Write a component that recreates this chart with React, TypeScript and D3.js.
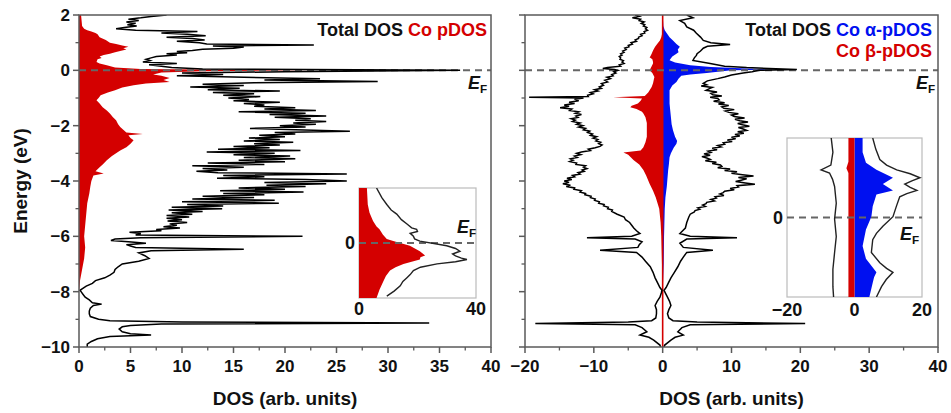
import React from "react";
import * as d3 from "d3";

type P = [number, number];

// [energy (eV), DOS]
const leftTotal: P[] = [
  [2.0, 8.5], [1.95, 7.0], [1.9, 6.0], [1.85, 4.8], [1.8, 5.8], [1.75, 4.6], [1.7, 5.5], [1.65, 4.7], [1.6, 5.6], [1.55, 4.4],
  [1.5, 3.6], [1.45, 5.5], [1.4, 11.5], [1.35, 8.0], [1.3, 10.5], [1.25, 12.3], [1.2, 8.5], [1.15, 11.0], [1.1, 12.2], [1.05, 9.5],
  [1.0, 11.7], [0.95, 12.4], [0.92, 22.8], [0.88, 13.0], [0.84, 16.0], [0.8, 15.0], [0.76, 12.0], [0.72, 11.0], [0.68, 9.5], [0.64, 10.5],
  [0.6, 8.5], [0.55, 9.5], [0.5, 7.5], [0.45, 7.0], [0.4, 6.5], [0.35, 6.9], [0.3, 6.2], [0.25, 9.5], [0.2, 6.8], [0.15, 8.0],
  [0.1, 9.0], [0.05, 12.0], [0.0, 37.0], [-0.05, 20.0], [-0.1, 10.0], [-0.15, 14.0], [-0.2, 9.5], [-0.25, 16.0], [-0.3, 23.4], [-0.35, 18.0],
  [-0.4, 29.0], [-0.45, 17.0], [-0.5, 12.0], [-0.55, 16.0], [-0.6, 10.8], [-0.65, 15.6], [-0.7, 12.5], [-0.75, 19.5], [-0.8, 13.0], [-0.85, 17.0],
  [-0.9, 14.0], [-0.95, 17.6], [-1.0, 14.5], [-1.05, 16.5], [-1.1, 15.0], [-1.15, 19.5], [-1.2, 16.0], [-1.25, 18.0], [-1.3, 17.0], [-1.35, 21.0],
  [-1.4, 18.0], [-1.45, 23.0], [-1.5, 15.5], [-1.55, 22.0], [-1.6, 18.5], [-1.65, 24.0], [-1.7, 19.0], [-1.75, 22.5], [-1.8, 21.0], [-1.85, 24.0],
  [-1.9, 20.8], [-1.95, 23.0], [-2.0, 19.5], [-2.05, 22.0], [-2.1, 16.6], [-2.15, 21.0], [-2.2, 26.3], [-2.25, 19.0], [-2.3, 21.0], [-2.35, 17.5],
  [-2.4, 20.0], [-2.45, 16.5], [-2.5, 19.5], [-2.55, 16.0], [-2.6, 20.8], [-2.65, 17.0], [-2.7, 19.5], [-2.75, 15.0], [-2.8, 18.5], [-2.85, 13.5],
  [-2.9, 21.5], [-2.95, 12.4], [-3.0, 19.0], [-3.05, 15.0], [-3.1, 20.5], [-3.15, 16.0], [-3.2, 21.0], [-3.25, 15.5], [-3.3, 20.0], [-3.35, 12.5],
  [-3.4, 18.0], [-3.45, 11.0], [-3.5, 16.0], [-3.55, 12.0], [-3.6, 14.4], [-3.65, 11.4], [-3.7, 13.5], [-3.75, 26.0], [-3.8, 14.0], [-3.85, 18.0],
  [-3.9, 13.4], [-3.95, 22.0], [-4.0, 26.0], [-4.05, 18.0], [-4.1, 24.0], [-4.15, 18.2], [-4.2, 22.0], [-4.25, 15.5], [-4.3, 20.0], [-4.35, 13.7],
  [-4.4, 21.8], [-4.45, 14.0], [-4.5, 18.0], [-4.55, 12.0], [-4.6, 17.0], [-4.65, 11.0], [-4.7, 19.0], [-4.75, 10.0], [-4.8, 19.4], [-4.85, 10.5],
  [-4.9, 14.0], [-4.95, 9.0], [-5.0, 13.9], [-5.05, 8.7], [-5.1, 12.0], [-5.15, 9.0], [-5.2, 11.0], [-5.25, 8.5], [-5.3, 10.7], [-5.35, 8.5],
  [-5.4, 10.0], [-5.45, 8.6], [-5.5, 10.5], [-5.55, 8.8], [-5.6, 9.5], [-5.65, 8.2], [-5.7, 9.8], [-5.75, 7.5], [-5.8, 8.0], [-5.85, 4.9],
  [-5.9, 6.0], [-5.95, 5.5], [-6.0, 21.7], [-6.05, 6.0], [-6.1, 3.5], [-6.15, 3.1], [-6.2, 4.8], [-6.25, 6.5], [-6.3, 4.6], [-6.35, 5.0],
  [-6.4, 5.5], [-6.47, 16.0], [-6.52, 7.0], [-6.6, 5.8], [-6.7, 6.4], [-6.8, 6.8], [-6.9, 5.8], [-7.0, 4.2], [-7.1, 3.8], [-7.2, 3.5],
  [-7.3, 3.4], [-7.4, 3.0], [-7.5, 2.5], [-7.6, 1.6], [-7.7, 1.3], [-7.8, 0.7], [-7.9, 0.3], [-7.95, 0.1], [-8.0, 0.2], [-8.1, 0.4],
  [-8.2, 0.6], [-8.3, 1.0], [-8.4, 1.3], [-8.45, 2.2], [-8.5, 1.4], [-8.6, 1.1], [-8.7, 1.0], [-8.8, 1.0], [-8.9, 1.1], [-9.0, 1.9],
  [-9.05, 3.0], [-9.1, 10.0], [-9.13, 34.0], [-9.17, 8.0], [-9.22, 5.0], [-9.27, 4.2], [-9.35, 3.9], [-9.45, 4.2], [-9.52, 5.0], [-9.57, 7.0],
  [-9.62, 3.0], [-9.7, 1.8], [-9.8, 1.2], [-9.9, 0.8], [-10.0, 0.8],
];

const leftCoP: P[] = [
  [2.0, 0.2], [1.8, 0.25], [1.6, 0.3], [1.5, 0.5], [1.45, 0.8], [1.4, 1.2], [1.35, 1.6], [1.3, 1.8], [1.2, 2.0], [1.1, 2.6],
  [1.0, 3.0], [0.95, 3.6], [0.9, 4.2], [0.85, 4.8], [0.8, 4.3], [0.75, 4.6], [0.7, 4.0], [0.65, 3.5], [0.6, 3.0], [0.55, 2.4],
  [0.5, 2.0], [0.45, 2.2], [0.4, 1.8], [0.3, 1.7], [0.25, 2.0], [0.18, 2.7], [0.1, 3.5], [0.05, 6.0], [0.02, 15.0], [0.0, 22.5],
  [-0.03, 12.0], [-0.08, 8.0], [-0.15, 7.2], [-0.2, 8.0], [-0.28, 8.8], [-0.35, 8.2], [-0.42, 8.8], [-0.48, 6.5], [-0.54, 5.3], [-0.62, 4.2],
  [-0.72, 3.5], [-0.8, 2.8], [-0.9, 2.1], [-1.0, 1.9], [-1.08, 1.7], [-1.2, 2.0], [-1.33, 2.3], [-1.45, 2.7], [-1.56, 3.0], [-1.7, 3.3],
  [-1.8, 3.6], [-1.95, 3.8], [-2.05, 4.0], [-2.15, 4.3], [-2.25, 4.6], [-2.3, 6.2], [-2.35, 4.8], [-2.45, 5.0], [-2.53, 5.3], [-2.65, 5.0],
  [-2.78, 4.6], [-2.9, 4.0], [-3.0, 3.6], [-3.1, 3.2], [-3.25, 2.7], [-3.4, 2.3], [-3.5, 2.0], [-3.65, 1.6], [-3.73, 2.4], [-3.8, 1.4],
  [-4.0, 1.2], [-4.2, 1.1], [-4.45, 1.0], [-4.8, 0.8], [-5.2, 0.7], [-5.6, 0.6], [-6.0, 0.5], [-6.4, 0.6], [-6.8, 0.5], [-7.2, 0.3],
  [-7.6, 0.1], [-8.0, 0], [-10.0, 0],
];

const rightAlphaTotal: P[] = [
  [2.0, 3.5], [1.9, 4.4], [1.8, 2.5], [1.7, 3.2], [1.57, 3.5], [1.45, 4.5], [1.34, 4.9], [1.2, 5.5], [1.08, 5.9], [1.0, 7.0],
  [0.93, 9.8], [0.87, 6.5], [0.8, 5.9], [0.7, 5.5], [0.6, 5.0], [0.54, 4.9], [0.45, 4.6], [0.36, 4.4], [0.25, 6.9], [0.15, 9.0],
  [0.1, 12.2], [0.03, 19.5], [0.0, 14.0], [-0.05, 13.0], [-0.1, 11.7], [-0.17, 10.0], [-0.24, 9.0], [-0.3, 8.0], [-0.38, 6.5], [-0.47, 5.9],
  [-0.52, 6.4], [-0.57, 5.6], [-0.62, 7.2], [-0.66, 6.8], [-0.72, 6.3], [-0.78, 7.9], [-0.83, 7.0], [-0.88, 7.3], [-0.93, 8.6], [-0.97, 6.9],
  [-1.02, 8.0], [-1.07, 8.2], [-1.12, 7.4], [-1.17, 9.0], [-1.22, 8.1], [-1.27, 9.6], [-1.32, 8.6], [-1.37, 8.9], [-1.42, 10.4], [-1.47, 9.1],
  [-1.52, 9.6], [-1.57, 11.0], [-1.62, 10.0], [-1.67, 10.4], [-1.72, 11.9], [-1.77, 10.5], [-1.82, 11.2], [-1.87, 12.4], [-1.92, 10.9], [-1.97, 11.6],
  [-2.02, 12.6], [-2.07, 11.0], [-2.12, 11.7], [-2.17, 12.2], [-2.22, 10.9], [-2.27, 11.8], [-2.32, 10.5], [-2.37, 11.2], [-2.42, 10.0], [-2.47, 10.6],
  [-2.52, 9.4], [-2.57, 10.1], [-2.62, 8.8], [-2.67, 9.0], [-2.72, 8.0], [-2.77, 8.5], [-2.82, 7.2], [-2.87, 7.9], [-2.92, 6.6], [-2.97, 7.0],
  [-3.02, 6.0], [-3.07, 6.9], [-3.12, 5.7], [-3.17, 6.4], [-3.22, 6.9], [-3.27, 6.2], [-3.32, 7.8], [-3.37, 7.2], [-3.42, 8.4], [-3.47, 8.6],
  [-3.52, 8.0], [-3.57, 9.8], [-3.62, 9.0], [-3.67, 10.8], [-3.72, 10.0], [-3.77, 11.6], [-3.82, 13.2], [-3.87, 11.0], [-3.92, 12.2], [-3.97, 11.4],
  [-4.02, 10.6], [-4.07, 12.0], [-4.12, 13.4], [-4.17, 10.8], [-4.22, 11.0], [-4.27, 9.8], [-4.32, 10.4], [-4.37, 9.0], [-4.42, 8.8], [-4.47, 8.3],
  [-4.52, 8.9], [-4.57, 7.6], [-4.62, 7.8], [-4.67, 7.0], [-4.72, 7.5], [-4.77, 6.4], [-4.82, 6.3], [-4.87, 5.8], [-4.92, 6.2], [-4.97, 5.1],
  [-5.02, 5.4], [-5.07, 4.7], [-5.12, 4.6], [-5.2, 4.0], [-5.3, 3.8], [-5.5, 3.5], [-5.7, 3.3], [-5.9, 2.5], [-6.0, 4.0], [-6.05, 10.8],
  [-6.1, 3.5], [-6.25, 2.5], [-6.4, 3.0], [-6.5, 7.3], [-6.58, 3.5], [-6.75, 3.0], [-6.9, 2.6], [-7.1, 2.2], [-7.3, 1.7], [-7.5, 1.2],
  [-7.7, 0.8], [-7.85, 0.5], [-7.95, 0.2], [-8.05, 0.4], [-8.2, 0.7], [-8.35, 1.0], [-8.5, 1.2], [-8.65, 0.9], [-8.8, 0.7], [-8.95, 0.9],
  [-9.05, 1.5], [-9.1, 5.0], [-9.15, 20.7], [-9.2, 4.0], [-9.3, 2.8], [-9.45, 2.2], [-9.57, 3.0], [-9.65, 1.8], [-9.75, 1.2], [-9.93, 0.3],
  [-10.0, 0.2],
];

const rightBetaTotal: P[] = [
  [2.0, -4.0], [1.95, -3.4], [1.9, -4.4], [1.85, -3.2], [1.8, -3.4], [1.75, -2.7], [1.7, -3.1], [1.65, -2.6], [1.6, -2.8], [1.55, -2.3],
  [1.5, -2.5], [1.45, -2.2], [1.4, -2.7], [1.35, -2.6], [1.3, -3.2], [1.25, -3.0], [1.2, -3.5], [1.15, -3.5], [1.1, -4.0], [1.05, -3.8],
  [1.0, -4.6], [0.95, -4.4], [0.9, -5.0], [0.85, -4.9], [0.8, -5.5], [0.75, -5.3], [0.7, -5.8], [0.65, -5.6], [0.6, -6.1], [0.55, -5.9],
  [0.5, -6.3], [0.45, -6.1], [0.4, -6.2], [0.35, -5.7], [0.3, -5.9], [0.25, -5.6], [0.2, -6.3], [0.15, -6.1], [0.1, -8.0], [0.07, -8.7],
  [0.03, -7.0], [0.0, -6.5], [-0.05, -7.1], [-0.1, -6.8], [-0.15, -7.4], [-0.2, -7.2], [-0.25, -8.1], [-0.3, -7.6], [-0.36, -8.4], [-0.42, -8.0],
  [-0.48, -8.9], [-0.54, -8.6], [-0.6, -9.2], [-0.65, -8.9], [-0.7, -9.9], [-0.75, -9.4], [-0.8, -10.5], [-0.85, -10.1], [-0.9, -10.9], [-0.95, -10.8],
  [-0.97, -19.4], [-1.0, -11.5], [-1.05, -12.8], [-1.1, -12.2], [-1.15, -13.6], [-1.2, -12.8], [-1.25, -14.3], [-1.3, -13.6], [-1.35, -14.9], [-1.4, -13.2],
  [-1.45, -13.5], [-1.5, -12.2], [-1.55, -12.7], [-1.6, -11.8], [-1.65, -12.6], [-1.7, -12.3], [-1.75, -13.3], [-1.8, -12.7], [-1.85, -13.1], [-1.9, -12.0],
  [-1.95, -12.5], [-2.0, -11.6], [-2.05, -12.2], [-2.1, -11.2], [-2.15, -11.5], [-2.2, -10.6], [-2.25, -10.9], [-2.3, -10.2], [-2.35, -10.5], [-2.4, -9.6],
  [-2.45, -10.1], [-2.5, -9.4], [-2.55, -9.7], [-2.6, -9.0], [-2.65, -9.3], [-2.7, -8.8], [-2.75, -9.1], [-2.8, -9.8], [-2.85, -10.8], [-2.9, -10.5],
  [-2.95, -11.8], [-3.0, -12.5], [-3.05, -11.9], [-3.1, -12.8], [-3.15, -12.4], [-3.2, -13.4], [-3.25, -13.0], [-3.3, -13.5], [-3.35, -12.5], [-3.4, -12.6],
  [-3.45, -11.2], [-3.5, -11.5], [-3.55, -11.0], [-3.6, -11.7], [-3.65, -11.4], [-3.7, -12.3], [-3.75, -12.0], [-3.8, -13.1], [-3.85, -12.8], [-3.9, -13.9],
  [-3.95, -13.2], [-4.0, -14.3], [-4.05, -13.6], [-4.1, -14.5], [-4.15, -13.4], [-4.2, -14.0], [-4.25, -12.8], [-4.3, -12.9], [-4.35, -11.8], [-4.4, -12.0],
  [-4.45, -11.2], [-4.5, -11.3], [-4.55, -10.4], [-4.6, -10.5], [-4.65, -9.8], [-4.7, -9.9], [-4.75, -9.2], [-4.8, -9.3], [-4.85, -8.5], [-4.9, -8.6],
  [-4.95, -7.9], [-5.0, -8.0], [-5.05, -7.3], [-5.1, -7.4], [-5.2, -6.6], [-5.3, -5.6], [-5.4, -5.4], [-5.5, -4.8], [-5.6, -4.5], [-5.7, -4.2],
  [-5.8, -3.8], [-5.9, -3.3], [-6.0, -4.5], [-6.05, -11.0], [-6.1, -4.0], [-6.2, -3.0], [-6.3, -3.4], [-6.4, -3.6], [-6.5, -9.1], [-6.58, -3.8],
  [-6.75, -3.0], [-6.9, -2.5], [-7.1, -1.8], [-7.3, -1.4], [-7.5, -1.1], [-7.7, -0.7], [-7.85, -0.4], [-7.95, -0.1], [-8.05, -0.2], [-8.2, -0.4],
  [-8.35, -0.8], [-8.5, -1.1], [-8.65, -0.9], [-8.8, -0.9], [-8.95, -1.0], [-9.05, -1.6], [-9.1, -5.0], [-9.15, -18.5], [-9.2, -4.0], [-9.3, -3.0],
  [-9.45, -2.3], [-9.57, -3.3], [-9.65, -2.0], [-9.75, -1.3], [-9.93, -0.4], [-10.0, -0.3],
];

const rightAlphaP: P[] = [
  [2.0, 0], [1.6, 0.1], [1.45, 0.3], [1.34, 0.6], [1.2, 1.0], [1.08, 1.5], [0.95, 2.0], [0.85, 2.5], [0.75, 2.2], [0.65, 2.3],
  [0.6, 2.0], [0.5, 1.4], [0.4, 1.1], [0.36, 1.0], [0.28, 1.8], [0.18, 4.0], [0.12, 7.0], [0.07, 12.2], [0.03, 17.0], [0.0, 10.0],
  [-0.05, 8.0], [-0.1, 6.4], [-0.15, 4.0], [-0.2, 2.7], [-0.3, 2.3], [-0.42, 2.0], [-0.55, 1.4], [-0.72, 1.0], [-0.9, 1.0], [-1.2, 1.0],
  [-1.45, 1.1], [-1.7, 1.2], [-1.95, 1.3], [-2.17, 1.5], [-2.4, 1.8], [-2.55, 2.1], [-2.65, 2.0], [-2.8, 1.6], [-3.0, 1.2], [-3.14, 1.0],
  [-3.4, 0.9], [-3.6, 0.8], [-3.9, 0.7], [-4.2, 0.6], [-4.6, 0.4], [-5.0, 0.3], [-6.0, 0.2], [-7.0, 0.15], [-8.0, 0], [-10.0, 0],
];

const rightBetaP: P[] = [
  [2.0, 0], [1.3, -0.1], [1.2, -0.2], [1.08, -0.4], [0.95, -0.8], [0.85, -1.1], [0.72, -1.4], [0.6, -1.6], [0.5, -1.8], [0.47, -1.9],
  [0.4, -1.5], [0.3, -1.4], [0.25, -1.4], [0.15, -1.6], [0.05, -1.8], [0.0, -1.9], [-0.1, -1.5], [-0.24, -1.2], [-0.35, -1.3], [-0.47, -1.4],
  [-0.6, -1.6], [-0.8, -2.1], [-0.93, -2.6], [-0.97, -7.2], [-1.02, -3.0], [-1.1, -3.2], [-1.2, -3.6], [-1.28, -4.5], [-1.33, -4.7], [-1.4, -3.8],
  [-1.5, -3.0], [-1.56, -2.8], [-1.7, -2.5], [-1.9, -2.3], [-2.1, -2.3], [-2.4, -2.3], [-2.6, -2.5], [-2.78, -2.8], [-2.9, -3.2], [-2.97, -5.7],
  [-3.05, -5.0], [-3.15, -4.6], [-3.25, -4.2], [-3.4, -3.4], [-3.6, -2.8], [-3.8, -2.4], [-4.1, -1.9], [-4.35, -1.4], [-4.6, -1.0], [-5.0, -0.5],
  [-5.5, -0.3], [-6.0, -0.2], [-7.0, -0.1], [-8.0, 0], [-10.0, 0],
];

const leftInsetTotal: P[] = [
  [2.0, 6.0], [1.65, 7.8], [1.4, 9.5], [1.2, 11.0], [1.05, 12.9], [0.85, 14.5], [0.7, 16.3], [0.55, 18.0], [0.5, 19.7], [0.42, 20.0],
  [0.35, 17.5], [0.25, 18.6], [0.15, 19.0], [0.07, 20.8], [-0.1, 30.0], [-0.2, 33.0], [-0.3, 34.5], [-0.4, 32.0], [-0.47, 33.0], [-0.55, 35.0],
  [-0.6, 36.9], [-0.68, 33.0], [-0.76, 26.7], [-0.88, 21.0], [-1.0, 18.6], [-1.15, 17.5], [-1.27, 16.3], [-1.4, 15.0], [-1.56, 14.1], [-1.75, 12.0],
  [-1.93, 9.5],
];

const leftInsetCoP: P[] = [
  [2.0, 2.7], [1.4, 3.0], [1.1, 3.6], [0.8, 4.8], [0.6, 6.0], [0.5, 7.0], [0.3, 8.2], [0.15, 9.5], [0.07, 11.7], [-0.1, 17.4],
  [-0.3, 20.8], [-0.45, 22.6], [-0.52, 21.0], [-0.6, 20.8], [-0.68, 18.0], [-0.76, 15.2], [-0.88, 12.5], [-1.0, 10.6], [-1.2, 9.2], [-1.4, 8.3],
  [-1.7, 7.0], [-2.0, 6.0],
];

const rightInsetAlphaTotal: P[] = [
  [1.0, 5.4], [0.86, 6.3], [0.73, 7.5], [0.66, 9.5], [0.6, 12.5], [0.55, 16.5], [0.5, 19.4], [0.46, 17.0], [0.42, 14.9], [0.38, 16.5],
  [0.34, 18.5], [0.3, 15.5], [0.26, 13.4], [0.14, 12.4], [0.01, 11.4], [-0.11, 8.4], [-0.2, 6.5], [-0.28, 5.4], [-0.44, 5.0], [-0.57, 7.5],
  [-0.64, 9.5], [-0.69, 11.4], [-0.78, 9.4], [-0.87, 8.0], [-1.0, 6.5],
];

const rightInsetBetaTotal: P[] = [
  [1.0, -6.9], [0.82, -6.4], [0.66, -7.0], [0.6, -9.9], [0.56, -7.4], [0.48, -6.5], [0.39, -5.9], [0.18, -5.4], [-0.02, -5.9], [-0.24, -5.4],
  [-0.44, -5.9], [-0.65, -6.4], [-0.87, -6.4], [-1.0, -6.2],
];

const rightInsetAlphaP: P[] = [
  [1.0, 2.4], [0.82, 2.4], [0.69, 3.4], [0.6, 6.5], [0.5, 11.4], [0.42, 8.4], [0.34, 11.4], [0.29, 6.5], [0.14, 5.4], [0.01, 5.0],
  [-0.15, 3.4], [-0.36, 2.4], [-0.52, 3.4], [-0.69, 6.5], [-0.75, 5.8], [-0.82, 5.4], [-1.0, 4.4],
];

const rightInsetBetaP: P[] = [
  [1.0, -1.8], [0.7, -1.8], [0.62, -2.4], [0.56, -1.8], [0.0, -1.8], [-1.0, -1.8],
];

const yMajorTicks = [2, 0, -2, -4, -6, -8, -10];
const yMinorTicks = [1, -1, -3, -5, -7, -9];
const leftXMajor = [0, 5, 10, 15, 20, 25, 30, 35, 40];
const leftXMinor = [2.5, 7.5, 12.5, 17.5, 22.5, 27.5, 32.5, 37.5];
const rightXMajor = [-20, -10, 0, 10, 20, 30, 40];
const rightXMinor = [-15, -5, 5, 15, 25, 35];
const leftInsetXLabels = [0, 40];
const rightInsetXLabels = [-20, 0, 20];

const FONT = "Arial, 'Liberation Sans', Helvetica, sans-serif";
const RED = "#d40000";
const BLUE = "#0010f0";
const AXIS = "#5a5a5a";

const fmt = (v: number) => (v < 0 ? "\u2212" + Math.abs(v) : String(v));

function EF({ x, y, size = 18 }: { x: number; y: number; size?: number }) {
  return (
    <text x={x} y={y} fontFamily={FONT} fontWeight="bold" fill="#111">
      <tspan fontStyle="italic" fontSize={size}>E</tspan>
      <tspan fontSize={size * 0.65} dy={size * 0.22}>F</tspan>
    </text>
  );
}

export default function App() {
  const yS = d3.scaleLinear().domain([-10, 2]).range([347, 15]);
  const lx = d3.scaleLinear().domain([0, 40]).range([79, 491]);
  const rx = d3.scaleLinear().domain([-20, 40]).range([525, 938]);
  const lix = d3.scaleLinear().domain([0, 40]).range([359, 476]);
  const liy = d3.scaleLinear().domain([-2, 2]).range([298, 188]);
  const rix = d3.scaleLinear().domain([-20, 20]).range([787, 922]);
  const riy = d3.scaleLinear().domain([-1, 1]).range([297, 138]);

  const line = (xs: d3.ScaleLinear<number, number>, ys: d3.ScaleLinear<number, number>) =>
    d3.line<P>().x((d) => xs(d[1])).y((d) => ys(d[0]));
  const area = (xs: d3.ScaleLinear<number, number>, ys: d3.ScaleLinear<number, number>) =>
    d3.area<P>().y((d) => ys(d[0])).x0(xs(0)).x1((d) => xs(d[1]));

  const yTop = yS(2);
  const yBot = yS(-10);

  const yAxis = (x0: number, labels: boolean) => (
    <g>
      {yMajorTicks.map((t) => (
        <g key={"M" + t}>
          <line x1={x0 - 6} x2={x0} y1={yS(t)} y2={yS(t)} stroke={AXIS} strokeWidth={1.5} />
          {labels && (
            <text x={x0 - 9} y={yS(t) + 6} textAnchor="end" fontSize={17} fontWeight="bold" fontFamily={FONT} fill="#111">
              {fmt(t)}
            </text>
          )}
        </g>
      ))}
      {yMinorTicks.map((t) => (
        <line key={"m" + t} x1={x0 - 3.5} x2={x0} y1={yS(t)} y2={yS(t)} stroke={AXIS} strokeWidth={1.3} />
      ))}
    </g>
  );

  const xAxis = (xs: d3.ScaleLinear<number, number>, major: number[], minor: number[]) => (
    <g>
      {major.map((t) => (
        <g key={"M" + t}>
          <line x1={xs(t)} x2={xs(t)} y1={yBot} y2={yBot + 6} stroke={AXIS} strokeWidth={1.5} />
          <text x={xs(t)} y={yBot + 25} textAnchor="middle" fontSize={17} fontWeight="bold" fontFamily={FONT} fill="#111">
            {fmt(t)}
          </text>
        </g>
      ))}
      {minor.map((t) => (
        <line key={"m" + t} x1={xs(t)} x2={xs(t)} y1={yBot} y2={yBot + 3.5} stroke={AXIS} strokeWidth={1.3} />
      ))}
    </g>
  );

  return (
    <svg width={951} height={413} style={{ position: "absolute", left: 0, top: 0, background: "#fff" }}>
      <defs>
        <clipPath id="clipL">
          <rect x={79} y={yTop} width={412} height={yBot - yTop} />
        </clipPath>
        <clipPath id="clipR">
          <rect x={525} y={yTop} width={413} height={yBot - yTop} />
        </clipPath>
        <clipPath id="clipLI">
          <rect x={359} y={188} width={117} height={110} />
        </clipPath>
        <clipPath id="clipRI">
          <rect x={787} y={138} width={135} height={159} />
        </clipPath>
      </defs>
      <rect x={0} y={0} width={951} height={413} fill="#fff" />

      {/* ---------- Left panel ---------- */}
      <g clipPath="url(#clipL)">
        <path d={area(lx, yS)(leftCoP) || ""} fill={RED} />
        <line x1={79} x2={491} y1={yS(0)} y2={yS(0)} stroke="#666" strokeWidth={2} strokeDasharray="7,5" />
        <path d={line(lx, yS)(leftTotal) || ""} fill="none" stroke="#000" strokeWidth={1.5} />
      </g>
      <rect x={79} y={yTop} width={412} height={yBot - yTop} fill="none" stroke={AXIS} strokeWidth={1.5} />
      {yAxis(79, true)}
      {xAxis(lx, leftXMajor, leftXMinor)}
      <text x={487} y={36} textAnchor="end" fontSize={18} fontWeight="bold" fontFamily={FONT}>
        <tspan fill="#111">Total DOS </tspan>
        <tspan fill={RED}>Co pDOS</tspan>
      </text>
      <EF x={468} y={89} />

      {/* left inset */}
      <rect x={359} y={188} width={117} height={110} fill="#fff" stroke="#bbb" strokeWidth={1.2} />
      <g clipPath="url(#clipLI)">
        <path d={area(lix, liy)(leftInsetCoP) || ""} fill={RED} />
        <line x1={359} x2={476} y1={liy(0)} y2={liy(0)} stroke="#666" strokeWidth={2} strokeDasharray="7,5" />
        <path d={line(lix, liy)(leftInsetTotal) || ""} fill="none" stroke="#222" strokeWidth={1.4} />
      </g>
      <text x={355} y={liy(0) + 6} textAnchor="end" fontSize={18} fontWeight="bold" fontFamily={FONT} fill="#111">0</text>
      {leftInsetXLabels.map((t) => (
        <text key={"li" + t} x={lix(t)} y={315} textAnchor="middle" fontSize={18} fontWeight="bold" fontFamily={FONT} fill="#111">
          {fmt(t)}
        </text>
      ))}
      <EF x={457} y={233} />

      {/* ---------- Right panel ---------- */}
      <g clipPath="url(#clipR)">
        <path d={area(rx, yS)(rightAlphaP) || ""} fill={BLUE} />
        <path d={area(rx, yS)(rightBetaP) || ""} fill={RED} />
        <line x1={rx(0)} x2={rx(0)} y1={yTop} y2={yBot} stroke={RED} strokeWidth={1.6} />
        <line x1={525} x2={938} y1={yS(0)} y2={yS(0)} stroke="#666" strokeWidth={2} strokeDasharray="7,5" />
        <path d={line(rx, yS)(rightAlphaTotal) || ""} fill="none" stroke="#000" strokeWidth={1.5} />
        <path d={line(rx, yS)(rightBetaTotal) || ""} fill="none" stroke="#000" strokeWidth={1.5} />
      </g>
      <rect x={525} y={yTop} width={413} height={yBot - yTop} fill="none" stroke={AXIS} strokeWidth={1.5} />
      {yAxis(525, false)}
      {xAxis(rx, rightXMajor, rightXMinor)}
      <text x={932} y={36} textAnchor="end" fontSize={18} fontWeight="bold" fontFamily={FONT}>
        <tspan fill="#111">Total DOS </tspan>
        <tspan fill={BLUE}>Co α-pDOS</tspan>
      </text>
      <text x={932} y={57} textAnchor="end" fontSize={18} fontWeight="bold" fontFamily={FONT} fill={RED}>
        Co β-pDOS
      </text>
      <EF x={916} y={89} />

      {/* right inset */}
      <rect x={787} y={138} width={135} height={159} fill="#fff" stroke="#bbb" strokeWidth={1.2} />
      <g clipPath="url(#clipRI)">
        <path d={area(rix, riy)(rightInsetAlphaP) || ""} fill={BLUE} />
        <path d={area(rix, riy)(rightInsetBetaP) || ""} fill={RED} />
        <line x1={787} x2={922} y1={riy(0)} y2={riy(0)} stroke="#666" strokeWidth={2} strokeDasharray="7,5" />
        <path d={line(rix, riy)(rightInsetAlphaTotal) || ""} fill="none" stroke="#222" strokeWidth={1.4} />
        <path d={line(rix, riy)(rightInsetBetaTotal) || ""} fill="none" stroke="#222" strokeWidth={1.4} />
      </g>
      <text x={783} y={riy(0) + 6} textAnchor="end" fontSize={18} fontWeight="bold" fontFamily={FONT} fill="#111">0</text>
      {rightInsetXLabels.map((t) => (
        <text key={"ri" + t} x={rix(t)} y={316} textAnchor="middle" fontSize={18} fontWeight="bold" fontFamily={FONT} fill="#111">
          {fmt(t)}
        </text>
      ))}
      <EF x={900} y={240} />

      {/* axis titles */}
      <text
        transform={`translate(27, ${(yTop + yBot) / 2}) rotate(-90)`}
        textAnchor="middle"
        fontSize={19}
        fontWeight="bold"
        fontFamily={FONT}
        fill="#111"
      >
        Energy (eV)
      </text>
      <text x={(79 + 491) / 2} y={405} textAnchor="middle" fontSize={19} fontWeight="bold" fontFamily={FONT} fill="#111">
        DOS (arb. units)
      </text>
      <text x={(525 + 938) / 2} y={405} textAnchor="middle" fontSize={19} fontWeight="bold" fontFamily={FONT} fill="#111">
        DOS (arb. units)
      </text>
    </svg>
  );
}
